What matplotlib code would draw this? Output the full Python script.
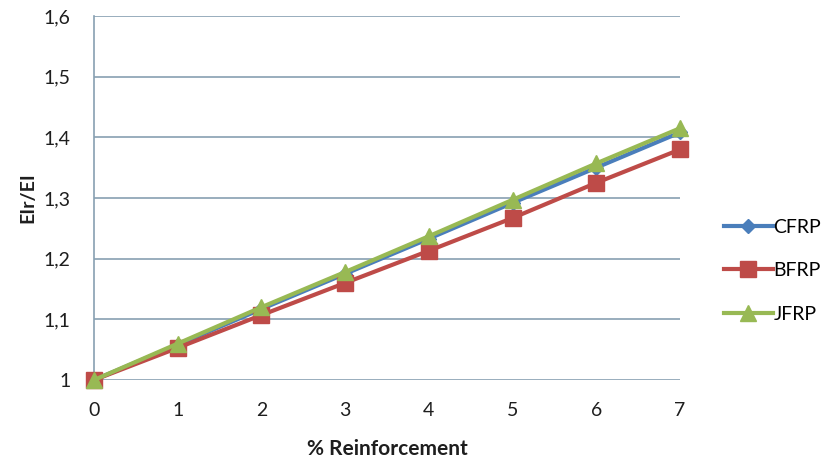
import matplotlib.pyplot as plt

plt.rcParams['font.family'] = ['Lato', 'DejaVu Sans']

reinforcement = [0, 1, 2, 3, 4, 5, 6, 7]
cfrp = [1.0, 1.058, 1.117, 1.175, 1.233, 1.292, 1.350, 1.408]
bfrp = [1.0, 1.053, 1.107, 1.160, 1.213, 1.267, 1.325, 1.380]
jfrp = [1.0, 1.060, 1.120, 1.178, 1.237, 1.297, 1.357, 1.415]
yticks = [1.0, 1.1, 1.2, 1.3, 1.4, 1.5, 1.6]
ytick_labels = ["1", "1,1", "1,2", "1,3", "1,4", "1,5", "1,6"]

grid_col = "#87A0B2"
text_col = "#1E1E1E"

fig = plt.figure(figsize=(8.27, 4.70), dpi=100)
ax = fig.add_axes([0.1137, 0.1915, 0.7086, 0.7745])

ax.plot(reinforcement, cfrp, color="#4A7EBB", lw=3, marker="D", ms=7,
        label="CFRP", clip_on=False, zorder=3)
ax.plot(reinforcement, bfrp, color="#BE4B48", lw=3, marker="s", ms=12,
        label="BFRP", clip_on=False, zorder=4)
ax.plot(reinforcement, jfrp, color="#98B954", lw=3, marker="^", ms=12,
        label="JFRP", clip_on=False, zorder=5)

ax.set_xlim(0, 7)
ax.set_ylim(1.0, 1.6)
ax.set_xticks(reinforcement)
ax.set_yticks(yticks)
ax.set_yticklabels(ytick_labels)
ax.grid(axis="y", color=grid_col, lw=1.2)
ax.set_axisbelow(True)

for side in ["top", "right", "bottom"]:
    ax.spines[side].set_visible(False)
ax.spines["left"].set_color(grid_col)
ax.spines["left"].set_linewidth(1.2)
ax.tick_params(axis="y", length=0, labelsize=14, pad=17, colors=text_col)
ax.tick_params(axis="x", length=0, labelsize=14, pad=16, colors=text_col)

ax.set_xlabel("% Reinforcement", fontsize=15, fontweight="bold",
              color=text_col, labelpad=14)
ax.set_ylabel("EIr/EI", fontsize=14, fontweight="bold",
              color=text_col, labelpad=5)

ax.legend(loc="center left", bbox_to_anchor=(1.045, 0.30), frameon=False,
          fontsize=14, handlelength=2.5, handletextpad=0.05, labelspacing=1.35)

fig.savefig("out.png")
